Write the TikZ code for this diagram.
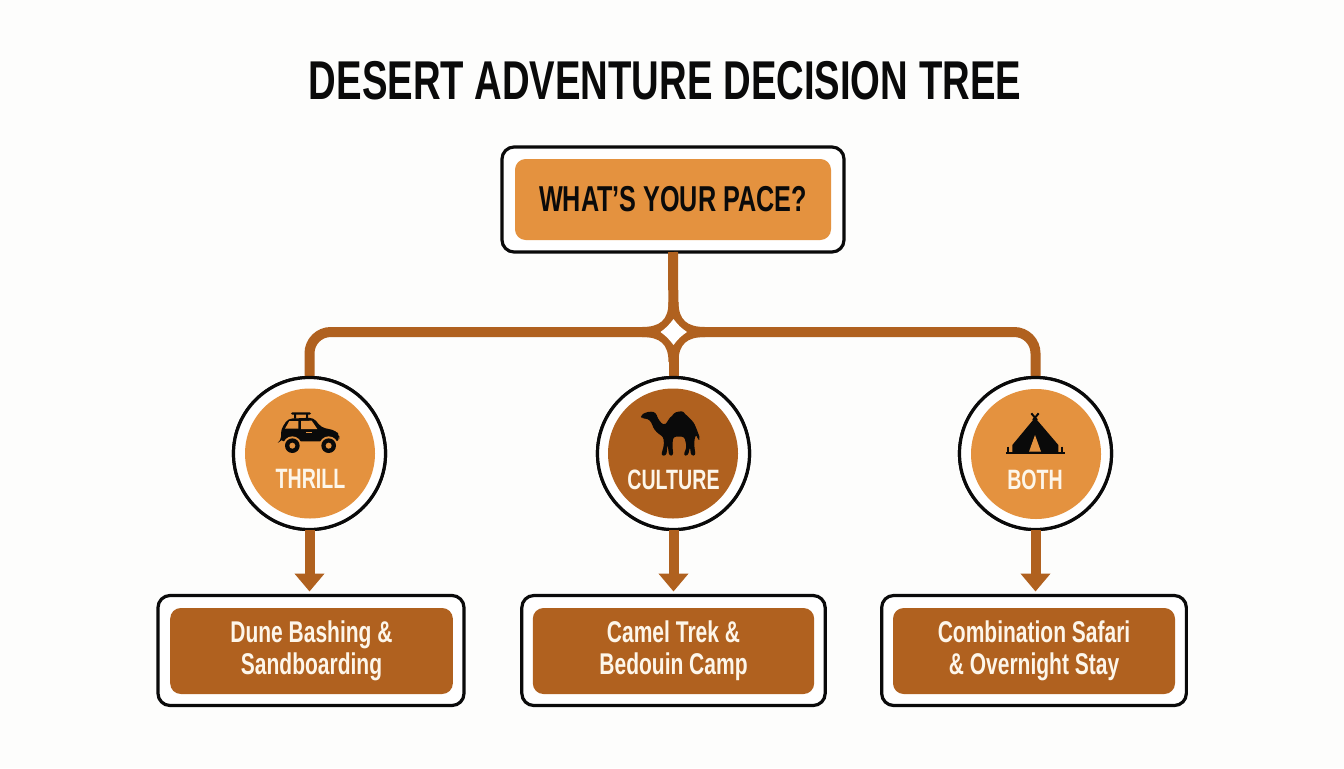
\documentclass[tikz,border=0pt]{standalone}
\usepackage{fontspec}
\usetikzlibrary{arrows.meta}
\newfontfamily\condfont[FakeStretch=0.70]{Liberation Sans Bold}
\definecolor{sandorange}{HTML}{E4923F}
\definecolor{rust}{HTML}{B0611F}
\definecolor{inkblack}{HTML}{0A0A0A}
\definecolor{cream}{HTML}{FDF6EA}
\definecolor{paper}{HTML}{FDFDFC}
\tikzset{
  x=0.75pt,y=-0.75pt,
  outerbox/.style={draw=inkblack,line width=2.4pt,fill=white,rounded corners=9pt,outer sep=0pt,inner sep=0pt},
  outerdisc/.style={circle,draw=inkblack,line width=2.4pt,fill=white,minimum size=114pt,outer sep=0pt,inner sep=0pt},
  innerdisc/.style={circle,minimum size=97.5pt,outer sep=0pt,inner sep=0pt},
  innerbox/.style={rounded corners=8pt,fill=rust,text=cream,align=center,outer sep=0pt,inner sep=0pt,
     font=\condfont\fontsize{22.5}{24}\selectfont},
  discword/.style={text=cream,font=\condfont\fontsize{21}{24}\selectfont,inner sep=0pt},
  wire/.style={draw=rust,line width=7.5pt},
  dropwire/.style={wire,-{Triangle[width=21.75pt,length=13.5pt]},shorten >=3pt},
  zoomA/.style={x=0.25pt,y=-0.25pt},
}
\begin{document}
\begin{tikzpicture}
\useasboundingbox (0,0) rectangle (1344,768);
\fill[paper] (0,0) rectangle (1344,768);
\node[text=inkblack,font=\condfont\fontsize{41}{44}\selectfont,inner sep=0pt] (title) at (665,81) {DESERT ADVENTURE DECISION TREE};
% root
\node[outerbox,minimum width=256.5pt,minimum height=78.75pt] (root) at (673,199.5) {};
\node[rounded corners=8pt,fill=sandorange,text=inkblack,minimum width=237pt,minimum height=60.75pt,inner sep=0pt,
  font=\condfont\fontsize{27}{30}\selectfont] (rootin) at (673,199.5) {WHAT’S YOUR PACE?};
% option discs
\node[outerdisc] (c1) at (309.5,453.5) {};
\node[outerdisc] (c2) at (673.5,453.5) {};
\node[outerdisc] (c3) at (1035.5,453.5) {};
\coordinate (hub) at (673.5,332);
% connectors
\draw[wire] (root.south) -- (hub);
\draw[wire] (hub) -- (c2.north);
\draw[wire,rounded corners=16pt] (c1.north) |- (hub) -| (c3.north);
% hub
\fill[rust] (668.5,302) .. controls (668.5,320) and (660,327) .. (642,327) -- (642,337)
  .. controls (660,337) and (668.5,344) .. (668.5,362) -- (678.5,362)
  .. controls (678.5,344) and (687,337) .. (705,337) -- (705,327)
  .. controls (687,327) and (678.5,320) .. (678.5,302) -- cycle;
\fill[white] (673.5,319) .. controls (678,325) and (681,328) .. (687,332)
  .. controls (681,336) and (678,339) .. (673.5,345)
  .. controls (669,339) and (666,336) .. (660.5,332)
  .. controls (666,328) and (669,325) .. (673.5,319) -- cycle;
% redraw discs over wires
\node[outerdisc] at (309.5,453.5) {};
\node[outerdisc] at (673.5,453.5) {};
\node[outerdisc] at (1035.5,453.5) {};
\node[innerdisc,fill=sandorange] (d1) at (310,453.5) {};
\node[innerdisc,fill=rust] (d2) at (673,453.5) {};
\node[innerdisc,fill=sandorange] (d3) at (1036,454) {};
\node[discword] (w1) at (310.5,479) {THRILL};
\node[discword] (w2) at (673.5,479.5) {CULTURE};
\node[discword] (w3) at (1035,479.5) {BOTH};
% result boxes
\node[outerbox,minimum width=229.5pt,minimum height=82.5pt] (b1) at (311,650.5) {};
\node[outerbox,minimum width=227.5pt,minimum height=82.5pt] (b2) at (673.5,650.5) {};
\node[outerbox,minimum width=228.5pt,minimum height=82.5pt] (b3) at (1034,650.5) {};
\node[innerbox,minimum width=212pt,minimum height=64.5pt] (t1) at (311.5,651) {Dune Bashing \&\\Sandboarding};
\node[innerbox,minimum width=211pt,minimum height=64.5pt] (t2) at (673.5,651) {Camel Trek \&\\Bedouin Camp};
\node[innerbox,minimum width=211.5pt,minimum height=64.5pt] (t3) at (1034,651) {Combination Safari\\\& Overnight Stay};
\draw[dropwire] (c1.south) -- (c1.south |- b1.north);
\draw[dropwire] (c2.south) -- (c2.south |- b2.north);
\draw[dropwire] (c3.south) -- (c3.south |- b3.north);
% car icon
\begin{scope}[shift={(230,370)},zoomA]
  \fill[inkblack,rounded corners=1pt] (183,127) rectangle (243,134);
  \fill[inkblack] (192,130) rectangle (198,146) (228,130) rectangle (234,146);
  \fill[inkblack,rounded corners=3pt] (153,212) -- (153,178) -- (174,146) -- (250,143) -- (274,172) -- (318,182) -- (328,196) -- (328,210) -- (150,214) -- cycle;
  \fill[inkblack,rounded corners=2pt] (158,200) rectangle (326,214);
  \fill[sandorange] (187,227) circle[radius=28] (296,227) circle[radius=28];
  \fill[sandorange] (178,153) -- (205,153) -- (205,176) -- (165,176) -- cycle;
  \fill[sandorange] (213,153) -- (245,152) -- (262,177) -- (213,177) -- cycle;
  \fill[sandorange] (228,185) rectangle (245,189);
  \fill[inkblack] (187,227) circle[radius=22] (296,227) circle[radius=22];
  \fill[sandorange] (187,227) circle[radius=9] (296,227) circle[radius=9];
\end{scope}
% camel icon
\begin{scope}[shift={(595,290)},zoomA]
  \fill[inkblack,rounded corners=2pt] (137,376) -- (150,368) -- (168,364) -- (183,368) -- (188,385) -- (204,405)
   .. controls (215,400) and (222,385) .. (232,378) .. controls (240,365) and (262,362) .. (270,372)
   .. controls (285,385) and (295,395) .. (302,410) -- (309,428) -- (316,447) -- (308,450) -- (304,432)
   -- (298,448) -- (298,470) -- (302,497) -- (288,497) -- (285,470) -- (279,497) -- (265,497) -- (275,470) -- (268,440)
   -- (235,440) -- (232,465) -- (235,497) -- (222,497) -- (218,462) -- (214,497) -- (198,497) -- (207,465) -- (205,440)
   .. controls (190,432) and (178,420) .. (172,405) -- (165,390) -- (150,385) -- (140,385) -- cycle;
\end{scope}
% tent icon
\begin{scope}[shift={(955,320)},zoomA]
  \draw[inkblack,line width=1.5pt] (229,280) -- (246,300) (251,280) -- (234,300);
  \fill[inkblack] (240,293) -- (310,375) -- (310,398) -- (172,398) -- (172,375) -- cycle;
  \fill[sandorange] (240,345) -- (258,395) -- (222,395) -- cycle;
  \draw[inkblack,line width=1.5pt] (153,400) -- (330,400);
  \draw[inkblack,line width=1.5pt] (160,380) -- (160,398) (322,380) -- (322,398);
\end{scope}
\end{tikzpicture}
\end{document}
